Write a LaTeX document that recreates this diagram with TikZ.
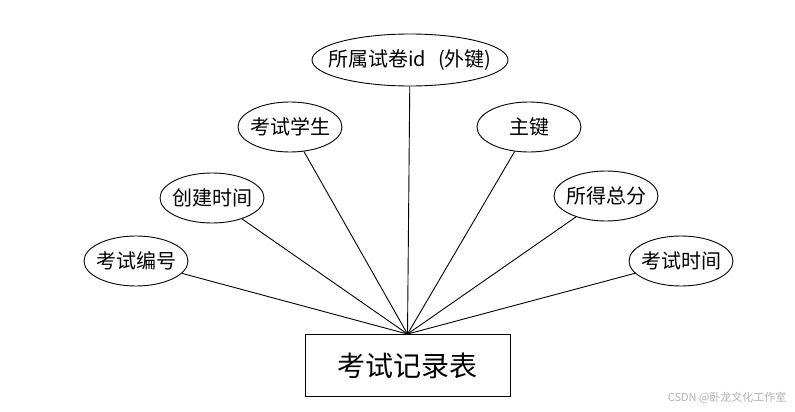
\documentclass[tikz,border=0pt]{standalone}
\usepackage{fontspec}
\newfontfamily\cjk{Noto Sans CJK SC}
\usetikzlibrary{shapes.geometric}
\tikzset{
  attr/.style={ellipse, draw, line width=0.9pt, minimum width=104pt, minimum height=50pt, inner ysep=0pt, inner xsep=-4pt, font=\cjk\fontsize{20}{20}\selectfont},
  ent/.style={rectangle, draw, line width=0.9pt, minimum width=205pt, minimum height=62pt, inner sep=0pt, font=\cjk\fontsize{28}{28}\selectfont},
  link/.style={line width=0.9pt}
}
\begin{document}
\begin{tikzpicture}[x=1pt,y=-1pt]
\useasboundingbox (0,0) rectangle (795,412);
\node[ent] (r) at (407.5,365.5) {考试记录表};
\node[attr, minimum width=196pt, minimum height=52pt, inner xsep=-13pt] (fk) at (410,60) {所属试卷id\hspace{0.6em}(外键)};
\node[attr] (stu) at (290,127) {考试学生};
\node[attr] (pk) at (529,127) {主键};
\node[attr] (ct) at (212,198) {创建时间};
\node[attr] (sc) at (606,196) {所得总分};
\node[attr] (no) at (136,261) {考试编号};
\node[attr] (tm) at (681,261) {考试时间};
\foreach \n in {fk,stu,pk,ct,sc,no,tm} \draw[link] (\n) -- (r.north);
\node[anchor=east, text=black!30, font=\cjk\fontsize{11}{11}\selectfont] (wm) at (790,398) {CSDN @卧龙文化工作室};
\end{tikzpicture}
\end{document}
